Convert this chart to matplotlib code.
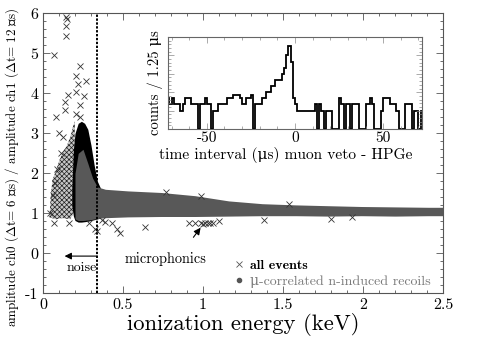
import numpy as np
import matplotlib
matplotlib.use("Agg")
import matplotlib.pyplot as plt
from matplotlib.lines import Line2D
from matplotlib.ticker import MultipleLocator

plt.rcParams['font.family'] = ['cmr10', 'DejaVu Serif']
plt.rcParams['mathtext.fontset'] = 'cm'
plt.rcParams['axes.unicode_minus'] = False
plt.rcParams['hatch.linewidth'] = 0.5

# ---------------- data ----------------
# grey band: mu-correlated n-induced recoils (envelope of the dense point cloud)
band_x = [0.20, 0.22, 0.25, 0.28, 0.31, 0.34, 0.39, 0.53, 0.74, 0.95, 1.16, 1.37, 1.58, 1.78, 1.99, 2.20, 2.41, 2.50]
band_hi = [2.00, 2.50, 2.60, 2.25, 1.88, 1.66, 1.60, 1.56, 1.52, 1.44, 1.31, 1.24, 1.21, 1.19, 1.17, 1.16, 1.15, 1.15]
band_lo = [0.86, 0.82, 0.82, 0.83, 0.85, 0.87, 0.89, 0.91, 0.92, 0.92, 0.93, 0.94, 0.94, 0.93, 0.94, 0.93, 0.94, 0.94]

# black dense noise region (all events)
noise_x = [0.180, 0.190, 0.200, 0.220, 0.240, 0.260, 0.280, 0.300, 0.320, 0.340, 0.360]
noise_hi = [1.60, 2.60, 3.00, 3.25, 3.30, 3.25, 3.10, 2.70, 2.20, 1.80, 1.62]
noise_lo = [1.20, 0.93, 0.82, 0.78, 0.78, 0.79, 0.80, 0.82, 0.84, 0.86, 0.88]

# semi-dense cloud of noise crosses (outline)
cloud_x = [0.04, 0.05, 0.06, 0.08, 0.10, 0.12, 0.15, 0.17, 0.19, 0.20, 0.19, 0.17, 0.12, 0.08]
cloud_y = [0.90, 1.50, 1.85, 2.05, 2.30, 2.50, 2.70, 2.90, 3.20, 3.30, 1.00, 0.85, 0.88, 0.85]

# isolated crosses (all events)
pts_x = [0.146, 0.150, 0.146, 0.142, 0.069, 0.233, 0.208, 0.267, 0.217, 0.208, 0.254, 0.158,
         0.138, 0.233, 0.138, 0.083, 0.208, 0.229, 0.100, 0.127, 0.075, 0.060, 0.045, 0.070,
         0.160, 0.290, 0.325, 0.340, 0.370, 0.390, 0.430, 0.460, 0.480, 0.640, 0.770, 0.910,
         0.950, 0.985, 1.000, 1.015, 1.030, 1.045, 1.060, 1.100, 1.380, 1.540, 1.800, 1.930,
         0.990, 0.110, 0.090]
pts_y = [5.92, 5.85, 5.68, 5.44, 4.96, 4.68, 4.43, 4.32, 4.23, 4.04, 3.93, 3.96,
         3.79, 3.71, 3.58, 3.42, 3.48, 3.42, 3.00, 2.92, 1.75, 1.45, 1.00, 0.75,
         0.75, 0.75, 0.60, 0.55, 0.83, 0.79, 0.75, 0.62, 0.50, 0.65, 1.54, 0.75,
         0.77, 0.76, 0.74, 0.76, 0.75, 0.76, 0.77, 0.82, 0.83, 1.23, 0.85, 0.90,
         1.43, 2.50, 2.10]

noise_cut = 0.34

x_ticks = [0, 0.5, 1, 1.5, 2, 2.5]
x_tick_labels = ['0', '0.5', '1', '1.5', '2', '2.5']
y_ticks = [-1, 0, 1, 2, 3, 4, 5, 6]
y_tick_labels = ['-1', '0', '1', '2', '3', '4', '5', '6']

# inset histogram: counts per 1.25 us bin from -72.5 to +72.5 us
hist_width = 1.25
hist_start = -72.5
counts_left = [5, 4, 5, 4, 4, 4, 3, 4, 5, 5,
               5, 4, 4, 4, 0, 4, 4, 5, 4, 4,
               0, 3, 3, 4, 4, 4, 4, 5, 5, 5,
               5.5, 5.5, 5.5, 5, 4, 4, 5, 5, 5.5, 0,
               4, 4, 4, 5, 5, 6, 6, 7, 7, 8,
               8, 8, 9, 10, 12, 13.5, 11, 5]
counts_right = [4, 3, 3, 3, 3, 3, 3, 3, 3, 4,
                0, 4, 3, 0, 3, 3, 3, 0, 0, 0,
                5, 4, 0, 4, 4, 0, 4, 4, 4, 0,
                0, 0, 4, 4, 5, 4, 0, 0, 0, 3,
                5, 5, 5, 4, 4, 4, 3, 0, 0, 0,
                4, 4, 4, 0, 3, 3, 0, 3]
inset_ticks = [-50, 0, 50]
inset_tick_labels = ['-50', '0', '50']

# ---------------- figure ----------------
fig = plt.figure(figsize=(4.91, 3.43), dpi=100)
ax = fig.add_axes([43 / 491, 1 - 293.3 / 343, 400 / 491, 280 / 343])

ax.fill(cloud_x, cloud_y, facecolor='#c8c8c8', edgecolor='#222222', hatch='xxxxxxx', lw=0, zorder=1)
ax.fill_between(noise_x, noise_lo, noise_hi, color='black', lw=0, zorder=2)
ax.fill_between(band_x, band_lo, band_hi, color='#585858', lw=0, zorder=3)
ax.plot(pts_x, pts_y, ls='', marker='x', color='#333333', ms=4, mew=0.6, zorder=4)

ax.axvline(noise_cut, color='black', lw=1.4, ls=(0, (1.2, 0.8)), zorder=5)

ax.set_xlim(0, 2.5)
ax.set_ylim(-1, 6)
ax.set_xticks(x_ticks, x_tick_labels)
ax.set_yticks(y_ticks, y_tick_labels)
ax.xaxis.set_minor_locator(MultipleLocator(0.1))
ax.yaxis.set_minor_locator(MultipleLocator(0.2))
ax.tick_params(which='both', direction='in', top=True, right=True, labelsize=11.5, width=0.6, color='#555555')
ax.tick_params(which='major', length=5)
ax.tick_params(which='minor', length=2.5)
for s in ax.spines.values():
    s.set_linewidth(0.8)
    s.set_color('#555555')

ax.set_xlabel('ionization energy (keV)', fontsize=16.3, labelpad=1)
ax.set_ylabel('amplitude ch0 ($\\Delta$t= 6 μs) / amplitude ch1 ($\\Delta$t= 12 μs)', fontsize=9.4)
ax.yaxis.set_label_coords(-0.056, 0.45)

# annotations
ax.annotate('', xy=(0.135, -0.07), xytext=(noise_cut, -0.07),
            arrowprops=dict(arrowstyle='-|>', color='black', lw=0.8, mutation_scale=10,
                            shrinkA=0, shrinkB=0), zorder=6)
ax.text(noise_cut - 0.005, -0.36, 'noise', ha='right', va='center', fontsize=10)
ax.text(0.765, -0.15, 'microphonics', ha='center', va='center', fontsize=10.3)
ax.annotate('', xy=(0.985, 0.64), xytext=(0.94, 0.40),
            arrowprops=dict(arrowstyle='-|>', color='black', lw=0.8, mutation_scale=10,
                            shrinkA=0, shrinkB=0), zorder=6)

handles = [Line2D([], [], ls='', marker='x', color='#555555', ms=4, mew=0.6),
           Line2D([], [], ls='', marker='o', color='#555555', ms=3)]
leg = ax.legend(handles, ['all events', 'μ-correlated n-induced recoils'],
                loc='lower left', bbox_to_anchor=(0.475, 0.02), frameon=False,
                fontsize=10, handlelength=0.8, handletextpad=0.4, borderpad=0,
                labelspacing=0.25, borderaxespad=0)
leg.get_texts()[0].set_fontfamily(['cmb10', 'DejaVu Serif'])
leg.get_texts()[1].set_color('#7a7a7a')

# ---------------- inset ----------------
axi = fig.add_axes([168 / 491, 1 - 129 / 343, 254 / 491, 92 / 343], zorder=10)
axi.set_facecolor('white')
counts = np.array(counts_left + counts_right, dtype=float)
edges = hist_start + hist_width * np.arange(len(counts) + 1)
axi.stairs(counts, edges, color='black', lw=1.3)
axi.set_xlim(-72, 72)
axi.set_ylim(0, 15)
axi.set_xticks(inset_ticks, inset_tick_labels)
axi.xaxis.set_minor_locator(MultipleLocator(10))
axi.yaxis.set_major_locator(MultipleLocator(3))
axi.yaxis.set_minor_locator(MultipleLocator(0.6))
axi.tick_params(axis='y', labelleft=False)
axi.tick_params(which='both', direction='in', right=True, top=True, labelsize=11, width=0.5,
                color='#888888', pad=1.5)
axi.tick_params(which='major', length=4)
axi.tick_params(which='minor', length=2)
for s in axi.spines.values():
    s.set_linewidth(0.8)
    s.set_color('#666666')
axi.set_xlabel('time interval (μs) muon veto - HPGe', fontsize=11.1, labelpad=-1)
axi.xaxis.set_label_coords(0.465, -0.2)
axi.set_ylabel('counts / 1.25 μs', fontsize=10.5, labelpad=2)

fig.savefig('out.png', dpi=100)
